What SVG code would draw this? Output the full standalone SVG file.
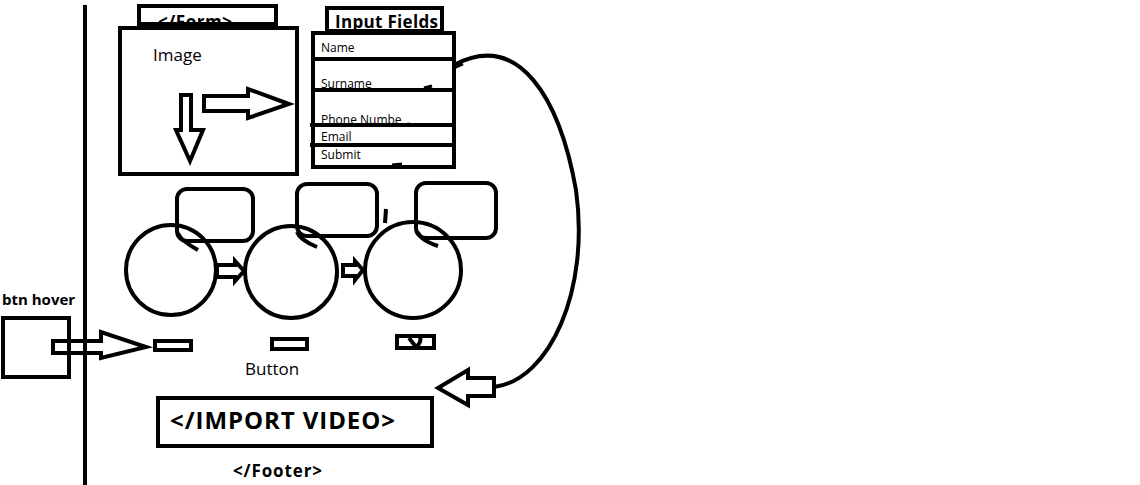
<svg xmlns="http://www.w3.org/2000/svg" width="1140" height="485" viewBox="0 0 1140 485">
<style>
.s{fill:none;stroke:#000;stroke-width:4;stroke-linejoin:miter}
.sw{fill:#fff;stroke:#000;stroke-width:4}
.t{font-family:"Open Sans","Noto Sans",sans-serif;fill:#000}
.b{font-family:"Open Sans","Noto Sans",sans-serif;font-weight:bold;fill:#000}
</style>
<rect width="1140" height="485" fill="#fff"/>
<line x1="85" y1="5" x2="85" y2="485" stroke="#000" stroke-width="4"/>

<g id="form">
<rect class="s" x="139" y="6" width="137" height="18"/>
<text class="b" x="158" y="28" font-size="17" textLength="74">&lt;/Form&gt;</text>
</g>
<g id="image">
<rect class="sw" x="120" y="28" width="177" height="146"/>
<text class="t" x="153" y="61" font-size="17">Image</text>
<path class="s" d="M181,95 H191 V130 H203 L190,161 L176,130 H181 Z" stroke-width="3.5"/>
<path class="s" d="M204,96 H248 V89 L289,104 L248,118 V111 H204 Z" stroke-width="3.5"/>
</g>
<g id="input-fields">
<rect class="s" x="327" y="8" width="115" height="23"/>
<text class="b" x="335" y="28" font-size="17" textLength="103">Input Fields</text>
<rect class="sw" x="313" y="33" width="141" height="134"/>
<text class="t" x="321" y="52" font-size="12">Name</text>
<text class="t" x="321" y="88" font-size="12">Surname</text>
<text class="t" x="321" y="124" font-size="12">Phone Numbe</text>
<text class="t" x="321" y="141" font-size="12">Email</text>
<text class="t" x="321" y="159" font-size="12">Submit</text>
<line x1="313" y1="59" x2="454" y2="59" stroke="#000" stroke-width="4"/>
<line x1="313" y1="90" x2="454" y2="90" stroke="#000" stroke-width="4"/>
<line x1="310" y1="125" x2="454" y2="125" stroke="#000" stroke-width="4"/>
<line x1="310" y1="145" x2="454" y2="145" stroke="#000" stroke-width="4"/>
<path d="M424,88 L432,86 M404,125 L410,124 M392,165 L402,164 M454,68 L463,64" stroke="#000" stroke-width="3" fill="none"/>
</g>

<g id="bubble1"><rect class="s" x="177" y="189" width="76" height="52" rx="10"/></g>
<g id="bubble2"><rect class="s" x="297" y="184" width="80" height="52" rx="10"/></g>
<g id="bubble3"><rect class="s" x="416" y="183" width="80" height="55" rx="10"/></g>

<g id="circle1"><circle class="s" cx="171" cy="270" r="45"/>
<path d="M178,233 Q180,240 198,250" class="s" stroke-width="3"/></g>
<g id="circle2"><circle class="s" cx="291" cy="272" r="46"/>
<path d="M297,232 Q300,240 317,247" class="s" stroke-width="3"/></g>
<g id="circle3"><circle class="s" cx="413" cy="270" r="48"/>
<path d="M418,232 Q420,240 438,246" class="s" stroke-width="3"/>
<path d="M386,209 L385,223" class="s" stroke-width="3"/></g>

<g id="connectors">
<path class="s" d="M217,265 H235 V261 L244,271 L235,281 V277 H217 Z" stroke-width="3"/>
<path class="s" d="M343,265 H355 V261 L363,270 L355,280 V276 H343 Z" stroke-width="3"/>
<path d="M454,65 C520,30 560,100 576,190 C590,290 550,380 494,387" class="s" stroke-width="3"/>
<path class="s" d="M494,378 H468 V370 L438,388 L468,405 V396 H494 Z" stroke-width="3"/>
<path class="s" d="M53,341 H101 V332 L146,347 L101,358 V353 H53 Z" stroke-width="4"/>
</g>

<g id="buttons">
<rect class="s" x="155" y="341" width="36" height="9"/>
<rect class="s" x="272" y="339" width="35" height="10"/>
<rect class="s" x="397" y="336" width="37" height="12"/>
<path d="M409,338 L416,347 Q422,342 420,337" class="s" stroke-width="3"/>
<text class="t" x="245" y="375" font-size="17">Button</text>
</g>

<g id="btn-hover">
<text class="b" x="2" y="305" font-size="15">btn hover</text>
<rect class="s" x="3" y="318" width="66" height="59"/>
</g>

<g id="import-video">
<rect class="s" x="158" y="398" width="274" height="48"/>
<text class="b" x="170" y="429" font-size="24" textLength="225">&lt;/IMPORT VIDEO&gt;</text>
</g>
<g id="footer">
<text class="b" x="233" y="477" font-size="17" textLength="89">&lt;/Footer&gt;</text>
</g>
</svg>
